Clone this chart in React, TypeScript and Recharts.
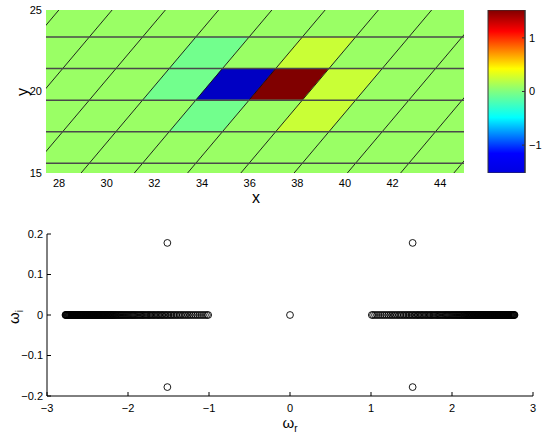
import React from "react";
import {
  ComposedChart, ScatterChart, BarChart, Bar, Scatter, XAxis, YAxis,
  ReferenceArea, ReferenceLine,
} from "recharts";

const FONT = "'Liberation Sans', Arial, sans-serif";

// ---- top panel: lattice field ----
const mapXTicks = [28, 30, 32, 34, 36, 38, 40, 42, 44];
const mapYTicks = [15, 20, 25];
const colorTicks = [-1, 0, 1];

// lattice row index j (top -> bottom) and column index i
const rowIdx = [2, 1, 0, -1, -2, -3];
const colIdx = [-5, -4, -3, -2, -1, 0, 1, 2, 3, 4, 5, 6];
const cellValues = [
  [0.08, 0.08, 0.08, 0.08, 0.08, 0.08, 0.08, 0.08, 0.08, 0.08, 0.08, 0.08],
  [0.08, 0.08, 0.08, 0.08, -0.04, 0.08, 0.22, 0.08, 0.08, 0.08, 0.08, 0.08],
  [0.08, 0.08, 0.08, 0.08, -0.04, -1.32, 1.52, 0.22, 0.08, 0.08, 0.08, 0.08],
  [0.08, 0.08, 0.08, 0.08, 0.08, -0.04, 0.08, 0.22, 0.08, 0.08, 0.08, 0.08],
  [0.08, 0.08, 0.08, 0.08, 0.08, 0.08, 0.08, 0.08, 0.08, 0.08, 0.08, 0.08],
  [0.08, 0.08, 0.08, 0.08, 0.08, 0.08, 0.08, 0.08, 0.08, 0.08, 0.08, 0.08],
];
const lineRows = [2, 1, 0, -1, -2];
const lineCols = [-5, -4, -3, -2, -1, 0, 1, 2, 3, 4, 5, 6, 7];

// lattice geometry (data units)
const X0 = 33.74;
const Y0 = 19.47;
const A = 2.236;
const H = 1.936;
const CLIM = [-1.52, 1.52];
const colorRange = [{ name: "c", lim: CLIM }];

// ---- bottom panel: spectrum ----
const reTicks = [-3, -2, -1, 0, 1, 2, 3];
const imTicks = [-0.2, -0.1, 0, 0.1, 0.2];
// positive branch of the continuum (the negative branch mirrors it)
const bandFreqs = [
  2.772, 2.768, 2.763, 2.757, 2.751, 2.745, 2.738, 2.731, 2.724, 2.717,
  2.710, 2.703, 2.696, 2.689, 2.682, 2.675, 2.668, 2.661, 2.654, 2.647,
  2.640, 2.633, 2.626, 2.619, 2.612, 2.605, 2.598, 2.591, 2.584, 2.577,
  2.570, 2.563, 2.556, 2.549, 2.542, 2.535, 2.528, 2.521, 2.514, 2.507,
  2.500, 2.493, 2.486, 2.479, 2.472, 2.465, 2.458, 2.451, 2.444, 2.437,
  2.430, 2.423, 2.416, 2.409, 2.402, 2.395, 2.388, 2.381, 2.374, 2.367,
  2.360, 2.353, 2.346, 2.339, 2.332, 2.325, 2.318, 2.311, 2.304, 2.297,
  2.290, 2.283, 2.276, 2.268, 2.260, 2.252, 2.244, 2.236, 2.228, 2.220,
  2.212, 2.204, 2.196, 2.188, 2.180, 2.171, 2.162, 2.153, 2.143, 2.132,
  2.121, 2.110, 2.099, 2.088, 2.076, 2.064, 2.052, 2.040, 2.028, 2.016,
  2.004, 1.991, 1.978, 1.965, 1.952, 1.939, 1.926, 1.913, 1.899, 1.885,
  1.871, 1.857, 1.843, 1.829, 1.815, 1.800, 1.785, 1.770, 1.755, 1.740,
  1.725, 1.710, 1.694, 1.678, 1.662, 1.646, 1.630, 1.614, 1.598, 1.582,
  1.566, 1.549, 1.532, 1.515, 1.497, 1.479, 1.461, 1.442, 1.423, 1.404,
  1.384, 1.364, 1.344, 1.323, 1.302, 1.281, 1.259, 1.237, 1.215, 1.192,
  1.169, 1.146, 1.122, 1.098, 1.074, 1.050, 1.026, 1.010,
];
const modeRe = [0, -1.514, -1.514, 1.514, 1.514];
const modeIm = [0, 0.178, -0.178, 0.178, -0.178];

const spectrum = [
  ...bandFreqs.map((f) => ({ re: -f, im: 0 })),
  ...bandFreqs.map((f) => ({ re: f, im: 0 })),
  ...modeRe.map((re, i) => ({ re, im: modeIm[i] })),
];

const clamp = (v: number) => Math.max(0, Math.min(1, v));
function jet(v: number) {
  const t = clamp((v - CLIM[0]) / (CLIM[1] - CLIM[0]));
  const r = clamp(Math.min(4 * t - 1.5, -4 * t + 4.5));
  const g = clamp(Math.min(4 * t - 0.5, -4 * t + 3.5));
  const b = clamp(Math.min(4 * t + 0.5, -4 * t + 2.5));
  const h = (c: number) => Math.round(c * 255).toString(16).padStart(2, "0");
  return `#${h(r)}${h(g)}${h(b)}`;
}

const cells = rowIdx.flatMap((j, r) =>
  colIdx.map((i, c) => {
    const left = X0 + i * A + (j * A) / 2;
    return { key: `${i}_${j}`, x1: left, x2: left + 1.5 * A, y1: Y0 + j * H, y2: Y0 + (j + 1) * H, v: cellValues[r][c] };
  })
);

// skewed cell drawn inside the bounding box the axis scales give
const Parallelogram = (p: any) => {
  const { x, y, width, height, fill, clipPath } = p;
  const pts = [
    [x, y + height], [x + (width * 2) / 3, y + height],
    [x + width, y], [x + width / 3, y],
  ].map((q) => q.join(",")).join(" ");
  return <polygon points={pts} fill={fill} stroke={fill} strokeWidth={0.6} clipPath={clipPath} />;
};

const Ring = (p: any) => (
  <circle cx={p.cx} cy={p.cy} r={3.4} fill="none" stroke="#000" strokeWidth={0.9} />
);

const tickStyle = { fontSize: 11, fill: "#000", fontFamily: FONT };
const minus = (v: number) => String(v).replace("-", "\u2212");

function LatticeMap() {
  return (
    <ComposedChart width={545} height={210} margin={{ top: 10, right: 81, bottom: 7, left: 6 }}>
      <XAxis type="number" dataKey="x" domain={[27.45, 45]} ticks={mapXTicks} allowDataOverflow
        tickLine={false} axisLine={false} tickSize={0} tickMargin={6} height={30} tick={tickStyle} />
      <YAxis type="number" dataKey="y" domain={[15, 25]} ticks={mapYTicks} allowDataOverflow
        tickLine={false} axisLine={false} tickSize={0} tickMargin={4} width={40} tick={tickStyle} />
      {cells.map((c) => (
        <ReferenceArea key={c.key} x1={c.x1} x2={c.x2} y1={c.y1} y2={c.y2} ifOverflow="hidden"
          fill={jet(c.v)} fillOpacity={1} shape={(p: any) => <Parallelogram {...p} />} />
      ))}
      {lineCols.map((k) => (
        <ReferenceLine key={`s${k}`} ifOverflow="hidden" stroke="#111" strokeWidth={0.9}
          segment={[
            { x: X0 + k * A + ((13 - Y0) / H) * (A / 2), y: 13 },
            { x: X0 + k * A + ((27 - Y0) / H) * (A / 2), y: 27 },
          ]} />
      ))}
      {lineRows.map((j) => (
        <ReferenceLine key={`h${j}`} y={Y0 + j * H} ifOverflow="hidden" stroke="#4a4a4a" strokeWidth={1.5} />
      ))}
    </ComposedChart>
  );
}

function ColorBar() {
  return (
    <BarChart width={75} height={200} data={colorRange} margin={{ top: 10, right: 0, bottom: 27, left: 18 }}
      barCategoryGap={0} barGap={0}>
      <defs>
        <linearGradient id="jetBar" x1="0" y1="1" x2="0" y2="0">
          <stop offset="0" stopColor="#0000e0" />
          <stop offset="0.12" stopColor="#0000ff" />
          <stop offset="0.34" stopColor="#00ffff" />
          <stop offset="0.5" stopColor="#80ff80" />
          <stop offset="0.64" stopColor="#ffff00" />
          <stop offset="0.87" stopColor="#ff0000" />
          <stop offset="1" stopColor="#800000" />
        </linearGradient>
      </defs>
      <XAxis dataKey="name" hide />
      <YAxis type="number" orientation="right" domain={CLIM} ticks={colorTicks} allowDataOverflow width={20}
        tickSize={-3} tickMargin={7} axisLine={{ stroke: "#333" }} tickLine={{ stroke: "#333" }}
        tick={tickStyle} tickFormatter={minus} />
      <YAxis yAxisId="l" type="number" orientation="left" domain={CLIM} ticks={colorTicks} allowDataOverflow width={0}
        tickSize={-3} tick={false} axisLine={{ stroke: "#333" }} tickLine={{ stroke: "#333" }} />
      <Bar dataKey="lim" fill="url(#jetBar)" stroke="#333" strokeWidth={1} isAnimationActive={false} />
    </BarChart>
  );
}

function Spectrum() {
  const line = { stroke: "#000" };
  return (
    <ScatterChart width={545} height={218} margin={{ top: 19, right: 12, bottom: 7, left: 7 }}>
      <XAxis type="number" dataKey="re" domain={[-3, 3]} ticks={reTicks} allowDataOverflow height={30}
        tickSize={-4} tickMargin={12} axisLine={line} tickLine={line} tick={tickStyle} tickFormatter={minus} />
      <XAxis xAxisId="top" orientation="top" type="number" domain={[-3, 3]} ticks={reTicks} allowDataOverflow
        height={0} tickSize={-4} tick={false} axisLine={line} tickLine={line} />
      <YAxis type="number" dataKey="im" domain={[-0.2, 0.2]} ticks={imTicks} allowDataOverflow width={40}
        tickSize={-4} tickMargin={8} axisLine={line} tickLine={line} tick={tickStyle} tickFormatter={minus} />
      <YAxis yAxisId="right" orientation="right" type="number" domain={[-0.2, 0.2]} ticks={imTicks} allowDataOverflow
        width={0} tickSize={-4} tick={false} axisLine={line} tickLine={line} />
      <Scatter data={spectrum} shape={Ring} isAnimationActive={false} />
    </ScatterChart>
  );
}

const label = (left: number, top: number, size: number, rotate = 0): React.CSSProperties => ({
  position: "absolute", left, top, fontSize: size, fontFamily: FONT, color: "#000", lineHeight: 1,
  transform: `translate(-50%, -50%) rotate(${rotate}deg)`, whiteSpace: "nowrap",
});

export default function App() {
  return (
    <div style={{ position: "absolute", left: 0, top: 0, width: 545, height: 433, background: "#fff", overflow: "hidden" }}>
      <div style={{ position: "absolute", left: 0, top: 0 }}><LatticeMap /></div>
      <div style={{ position: "absolute", left: 470, top: 0 }}><ColorBar /></div>
      <div style={{ position: "absolute", left: 0, top: 215 }}><Spectrum /></div>
      <div style={label(23, 92, 16, -90)}>y</div>
      <div style={label(256, 198, 16)}>x</div>
      <div style={label(15, 317, 15, -90)}>ω<sub style={{ fontSize: 10 }}>i</sub></div>
      <div style={label(290, 424, 15)}>ω<sub style={{ fontSize: 10 }}>r</sub></div>
    </div>
  );
}
